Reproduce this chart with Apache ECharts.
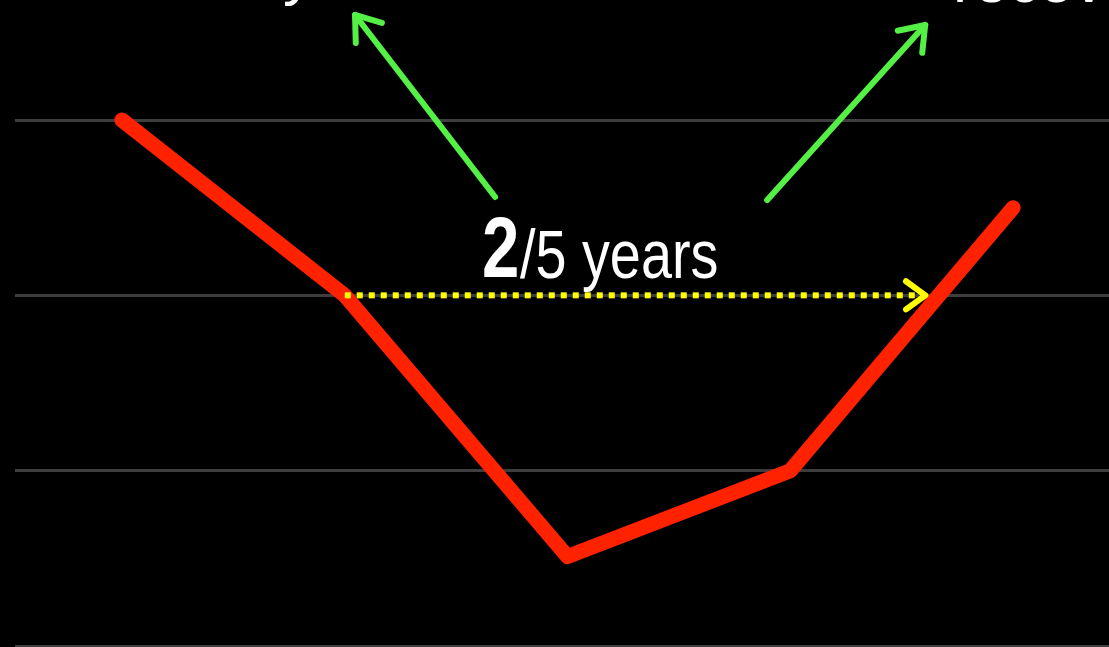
<!DOCTYPE html>
<html>
<head>
<meta charset="utf-8">
<style>
  html, body { margin: 0; padding: 0; background: #000; }
  #chart { width: 1109px; height: 647px; }
</style>
<script src="https://cdn.jsdelivr.net/npm/echarts@6/dist/echarts.min.js"></script>
</head>
<body>
<div id="chart"></div>
<script>
// Periods along the horizontal axis (not labelled)
const periods = ['P1', 'P2', 'P3', 'P4', 'P5'];
// Level of the indicator in each period
const levels = [3.0, 2.0, 0.51, 1.0, 2.5];
// Horizontal gridlines
const yTicks = [0, 1, 2, 3];

const chart = echarts.init(document.getElementById('chart'), null, { renderer: 'canvas' });

const lineData = periods.map((p, i) => [i, levels[i]]);

chart.setOption({
  backgroundColor: '#000',
  animation: false,
  grid: { left: 15, right: 0, top: 120, bottom: 1, containLabel: false },
  xAxis: {
    type: 'value',
    min: -0.48,
    max: 4.43,
    axisLine: { show: false },
    axisTick: { show: false },
    axisLabel: { show: false },
    splitLine: { show: false }
  },
  yAxis: {
    type: 'value',
    min: yTicks[0],
    max: yTicks[yTicks.length - 1],
    interval: 1,
    axisLine: { show: false },
    axisTick: { show: false },
    axisLabel: { show: false },
    splitLine: { show: true, lineStyle: { color: '#3d3d3d', width: 3 } }
  },
  series: [{
    type: 'line',
    data: lineData,
    symbol: 'none',
    clip: false,
    z: 5,
    lineStyle: { color: '#ff2200', width: 15, cap: 'round', join: 'round' }
  }]
});

// Annotation arrows, given in axis units: [from, to]
const recoveryArrow = [[1, 2], [3.606, 2]];
const leftArrow = [[1.675, 2.561], [1.046, 3.599]];
const rightArrow = [[2.896, 2.544], [3.605, 3.542]];

function px(pt) {
  return chart.convertToPixel({ seriesIndex: 0 }, pt);
}

function arrow(from, to, color, width, dash, headLen) {
  const a = px(from), b = px(to);
  const ang = Math.atan2(b[1] - a[1], b[0] - a[0]);
  const spread = Math.PI / 5;
  const h1 = [b[0] - headLen * Math.cos(ang - spread), b[1] - headLen * Math.sin(ang - spread)];
  const h2 = [b[0] - headLen * Math.cos(ang + spread), b[1] - headLen * Math.sin(ang + spread)];
  return [
    {
      type: 'line', z: 20,
      shape: { x1: a[0], y1: a[1], x2: b[0], y2: b[1] },
      style: { stroke: color, lineWidth: width, lineDash: dash, lineCap: dash ? 'butt' : 'round' }
    },
    {
      type: 'polyline', z: 20,
      shape: { points: [h1, b, h2] },
      style: { stroke: color, lineWidth: width, lineCap: 'round', lineJoin: 'round', fill: null }
    }
  ];
}

const green = '#55f046';
const graphics = []
  .concat(arrow(recoveryArrow[0], recoveryArrow[1], '#ffff00', 6, [6, 6], 24))
  .concat(arrow(leftArrow[0], leftArrow[1], green, 6, null, 28))
  .concat(arrow(rightArrow[0], rightArrow[1], green, 6, null, 28));

// Condensed label: regular sans squeezed horizontally
graphics.push(
  {
    type: 'text', z: 30, x: 482, y: 253, scaleX: 0.78,
    style: {
      text: '2', fill: '#fff', font: 'bold 86px "Liberation Sans", Arial, sans-serif',
      align: 'left', verticalAlign: 'middle'
    }
  },
  {
    type: 'text', z: 30, x: 520, y: 259, scaleX: 0.82,
    style: {
      text: '/5 years', fill: '#fff', font: '68px "Liberation Sans", Arial, sans-serif',
      align: 'left', verticalAlign: 'middle'
    }
  },
  {
    type: 'text', z: 30, x: 314, y: -24,
    style: {
      text: 'Economy', fill: '#fff', font: '62px "Liberation Sans", Arial, sans-serif',
      align: 'right', verticalAlign: 'middle'
    }
  },
  {
    type: 'text', z: 30, x: 953, y: -15,
    style: {
      text: 'recovery', fill: '#fff', font: '62px "Liberation Sans", Arial, sans-serif',
      align: 'left', verticalAlign: 'middle'
    }
  }
);

chart.setOption({ graphic: graphics });
</script>
</body>
</html>
